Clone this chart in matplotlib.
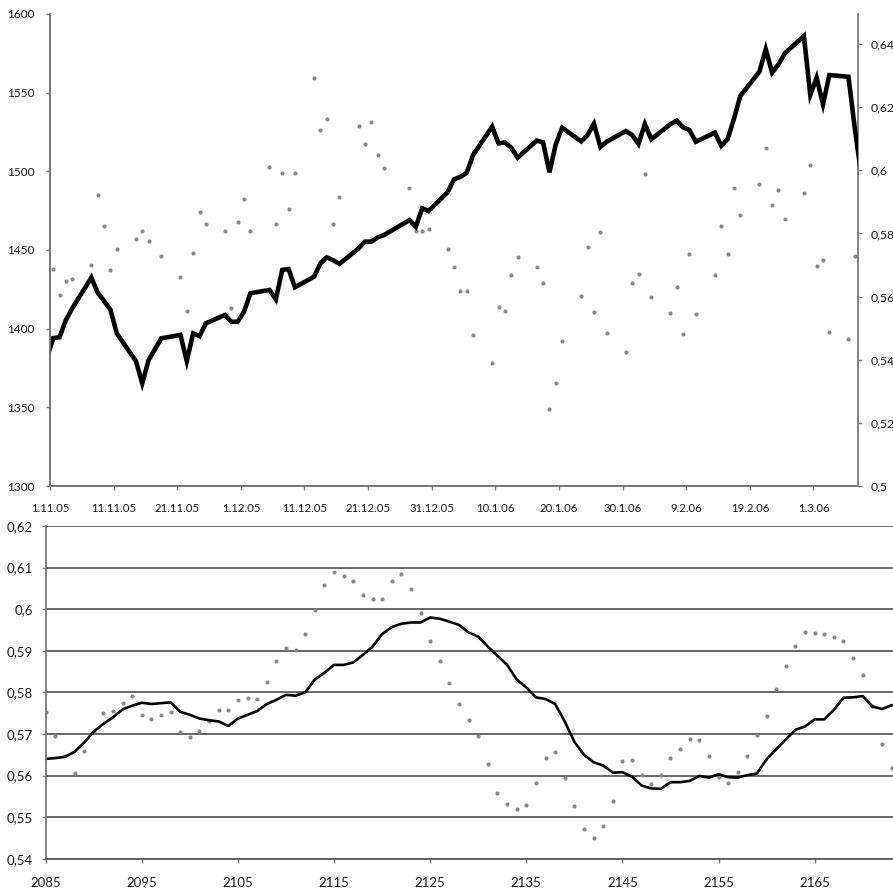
import matplotlib
matplotlib.use("Agg")
from matplotlib import pyplot as plt
from matplotlib.ticker import FuncFormatter
import numpy as np
import pandas as pd

# trading days (31.10.05 - 8.3.06), 26.12. was a holiday
days = pd.bdate_range('2005-10-31', '2006-03-08', freq='C',
                      holidays=['2005-12-26'])

index_close = [
    1381.0,
    # November
    1394.0, 1394.5, 1405.5, 1413.0, 1432.4, 1422.9, 1417.6, 1412.0, 1397.0,
    1379.4, 1365.3, 1380.1, 1387.0, 1393.9, 1396.0, 1379.4, 1397.0, 1395.3,
    1403.4, 1408.7, 1404.4, 1404.4,
    # December
    1410.8, 1422.5, 1424.6, 1418.7, 1437.3, 1437.9, 1426.3, 1433.0, 1441.5,
    1445.3, 1443.5, 1441.2, 1451.0, 1455.3, 1455.3, 1458.0, 1459.5, 1469.0,
    1464.8, 1476.5, 1474.8,
    # January
    1486.7, 1494.9, 1496.5, 1499.1, 1510.4, 1528.4, 1517.8, 1518.4, 1515.0,
    1508.7, 1519.5, 1518.4, 1499.4, 1517.2, 1527.7, 1519.0, 1523.1, 1530.3,
    1515.5, 1518.8, 1525.6, 1523.1,
    # February
    1517.4, 1530.1, 1520.4, 1529.9, 1532.2, 1528.0, 1526.3, 1518.8, 1524.6,
    1516.3, 1520.4, 1533.3, 1547.9, 1563.3, 1577.6, 1562.7, 1568.0, 1575.0,
    1586.0, 1548.5,
    # March
    1559.5, 1542.6, 1561.2, 1560.1, 1527.3, 1498.0,
]

# daily ratio, 1.11.05 - 7.3.06
ratio_days = days[1:-1]
ratio = [
    0.5687, 0.5605, 0.5650, 0.5655, 0.5701, 0.5921, 0.5825, 0.5684, 0.5750,
    0.5783, 0.5809, 0.5775, 0.5435, 0.5729, 0.5663, 0.5555, 0.5738, 0.5867,
    0.5830, 0.5809, 0.5564, 0.5837,
    0.5908, 0.5809, 0.6011, 0.5830, 0.5991, 0.5878, 0.5991, 0.6293, 0.6128,
    0.6162, 0.5830, 0.5916, 0.6140, 0.6082, 0.6153, 0.6048, 0.6008, 0.5945,
    0.5809, 0.5809, 0.5813,
    0.5751, 0.5693, 0.5618, 0.5618, 0.5477, 0.5390, 0.5568, 0.5555, 0.5667,
    0.5725, 0.5693, 0.5643, 0.5245, 0.5327, 0.5460, 0.5602, 0.5758, 0.5552,
    0.5806, 0.5486, 0.5424, 0.5643,
    0.5672, 0.5987, 0.5598, 0.5548, 0.5630, 0.5481, 0.5734, 0.5544, 0.5667,
    0.5825, 0.5734, 0.5945, 0.5858, 0.5958, 0.6070, 0.5891, 0.5937, 0.5846,
    0.5929, 0.6016,
    0.5697, 0.5717, 0.5489, 0.5465, 0.5729,
]

# lower chart: observation number 2085 - 2173
obs = np.arange(2085, 2174)
obs_ratio = [
    0.5752, 0.5694, 0.5647, 0.5606, 0.5660, 0.5706, 0.5750, 0.5756, 0.5775,
    0.5791, 0.5746, 0.5736, 0.5746, 0.5753, 0.5705, 0.5692, 0.5708, 0.5730,
    0.5758, 0.5758, 0.5781, 0.5787, 0.5784, 0.5825, 0.5876, 0.5907, 0.5902,
    0.5940, 0.5997, 0.6057, 0.6089, 0.6079, 0.6067, 0.6035, 0.6025, 0.6025,
    0.6067, 0.6085, 0.6048, 0.5990, 0.5924, 0.5876, 0.5823, 0.5771, 0.5733,
    0.5694, 0.5628, 0.5558, 0.5532, 0.5520, 0.5529, 0.5581, 0.5641, 0.5657,
    0.5594, 0.5526, 0.5472, 0.5450, 0.5479, 0.5539, 0.5634, 0.5638, 0.5602,
    0.5580, 0.5602, 0.5641, 0.5663, 0.5689, 0.5686, 0.5647, 0.5596, 0.5583,
    0.5609, 0.5647, 0.5698, 0.5743, 0.5807, 0.5863, 0.5911, 0.5946, 0.5943,
    0.5940, 0.5933, 0.5924, 0.5883, 0.5841, 0.5768, 0.5676, 0.5619,
]
obs_smooth = [
    0.5640, 0.5642, 0.5645, 0.5657, 0.5679, 0.5706, 0.5724, 0.5740, 0.5759,
    0.5768, 0.5775, 0.5772, 0.5774, 0.5776, 0.5753, 0.5746, 0.5737, 0.5733,
    0.5730, 0.5719, 0.5737, 0.5746, 0.5755, 0.5772, 0.5782, 0.5794, 0.5792,
    0.5800, 0.5831, 0.5847, 0.5866, 0.5866, 0.5872, 0.5890, 0.5910, 0.5940,
    0.5957, 0.5965, 0.5968, 0.5968, 0.5980, 0.5977, 0.5970, 0.5962, 0.5944,
    0.5934, 0.5910, 0.5888, 0.5866, 0.5831, 0.5812, 0.5788, 0.5784, 0.5772,
    0.5730, 0.5681, 0.5650, 0.5632, 0.5624, 0.5607, 0.5608, 0.5597, 0.5576,
    0.5569, 0.5568, 0.5584, 0.5584, 0.5587, 0.5599, 0.5595, 0.5603, 0.5596,
    0.5595, 0.5601, 0.5605, 0.5639, 0.5663, 0.5687, 0.5710, 0.5718, 0.5735,
    0.5735, 0.5758, 0.5787, 0.5788, 0.5791, 0.5766, 0.5760, 0.5769,
]

date_ticks = pd.date_range('2005-11-01', periods=12, freq='10D')
date_ticks = date_ticks.append(pd.DatetimeIndex(['2006-03-01']))

plt.rcParams['font.family'] = ['Lato', 'DejaVu Sans']
axis_grey = '#7a7a7a'
grid_grey = '#5c5c5c'
text_col = '#1a1a1a'
dot_grey = '#8a8a8a'


def comma(v, pos=None):
    return ('%g' % round(v, 3)).replace('.', ',')


W, H = 893, 890
fig = plt.figure(figsize=(W / 100, H / 100), dpi=100)

# upper chart: index (left) and ratio (right)
ax = fig.add_axes([50 / W, 1 - 486 / H, (858 - 50) / W, (486 - 14) / H])
ax_r = ax.twinx()
ax.set_zorder(ax_r.get_zorder() + 1)
ax.patch.set_visible(False)

mid = pd.Timedelta(hours=12)
ax_r.plot(ratio_days + mid, ratio, 'o', ms=3.0, color=dot_grey, mew=0)
ax.plot(days + mid, index_close, color='black', lw=3.3,
        solid_joinstyle='miter')

ax.set_xlim(pd.Timestamp('2005-11-01'), pd.Timestamp('2006-03-08'))
ax.set_ylim(1300, 1600)
ax.set_yticks(np.arange(1300, 1601, 50))
ax_r.set_ylim(0.5, 0.6495)
ax_r.set_yticks(np.arange(0.5, 0.641, 0.02))
ax_r.yaxis.set_major_formatter(FuncFormatter(comma))
ax.set_xticks(date_ticks)
ax.set_xticklabels(['%d.%d.%s' % (d.day, d.month, d.strftime('%y'))
                    for d in date_ticks])

for a in (ax, ax_r):
    a.spines['top'].set_visible(False)
    for s in a.spines.values():
        s.set_color(axis_grey)
        s.set_linewidth(1.3)
    a.tick_params(length=3, width=1, color=axis_grey, labelcolor=text_col)
ax.spines['right'].set_visible(False)
ax.tick_params(axis='y', labelsize=8.5, pad=8)
ax.tick_params(axis='x', labelsize=8.2, pad=9)
ax_r.tick_params(axis='y', labelsize=8.8, pad=6)

# lower chart
bx = fig.add_axes([45.7 / W, 1 - 858.7 / H, (W - 45.7) / W, (858.7 - 526) / H])
bx.set_yticks(np.arange(0.54, 0.6201, 0.01))
bx.yaxis.grid(True, color=grid_grey, lw=1.3)
bx.set_axisbelow(True)
bx.plot(obs, obs_ratio, 'o', ms=3.0, color=dot_grey, mew=0)
bx.plot(obs, obs_smooth, color='black', lw=1.9)
bx.set_xlim(2085, 2173.15)
bx.set_ylim(0.54, 0.62)
bx.set_xticks(np.arange(2085, 2174, 10))
bx.yaxis.set_major_formatter(FuncFormatter(comma))
for side in ('top', 'right'):
    bx.spines[side].set_visible(False)
bx.spines['bottom'].set_color(grid_grey)
bx.spines['bottom'].set_linewidth(1.3)
bx.spines['left'].set_color(axis_grey)
bx.spines['left'].set_linewidth(1.3)
bx.tick_params(length=3, width=1, color=axis_grey, labelcolor=text_col,
               labelsize=9.5)
bx.tick_params(axis='x', pad=10)
bx.tick_params(axis='y', pad=6)

fig.savefig('out.png', dpi=100)
